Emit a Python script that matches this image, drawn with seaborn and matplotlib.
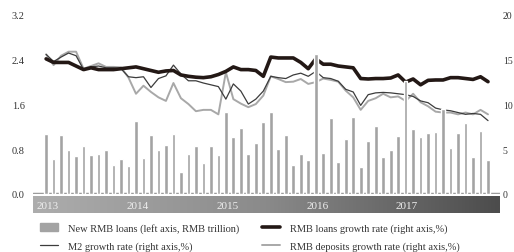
import numpy as np
import pandas as pd
import matplotlib.pyplot as plt
import seaborn as sns
from matplotlib.patches import Patch
from matplotlib.lines import Line2D

# monthly data, 2013-01 .. 2017-12
new_loans = [1.07, 0.62, 1.05, 0.79, 0.68, 0.86, 0.70, 0.72, 0.79, 0.51, 0.63, 0.50,
             1.31, 0.65, 1.05, 0.78, 0.88, 1.08, 0.40, 0.71, 0.86, 0.56, 0.85, 0.70,
             1.47, 1.02, 1.18, 0.72, 0.91, 1.28, 1.47, 0.81, 1.05, 0.52, 0.71, 0.61,
             2.50, 0.74, 1.36, 0.57, 0.99, 1.37, 0.48, 0.95, 1.21, 0.66, 0.79, 1.04,
             2.02, 1.16, 1.02, 1.09, 1.11, 1.52, 0.83, 1.09, 1.27, 0.67, 1.12, 0.60]
loans_growth = [15.1, 14.7, 14.7, 14.7, 14.3, 13.9, 14.1, 13.9, 13.9, 13.9, 14.0, 14.1,
                14.2, 14.0, 13.8, 13.6, 13.75, 13.8, 13.3, 13.15, 13.05, 13.0, 13.1, 13.35,
                13.7, 14.2, 13.9, 13.9, 13.8, 13.15, 15.3, 15.2, 15.2, 15.2, 14.7, 14.0,
                15.1, 14.5, 14.5, 14.3, 14.2, 14.1, 12.9, 12.85, 12.9, 12.9, 12.96, 13.3,
                12.5, 12.85, 12.2, 12.7, 12.74, 12.74, 13.0, 13.0, 12.9, 12.8, 13.1, 12.55]
m2_growth = [15.6, 14.8, 15.3, 15.75, 15.45, 13.9, 14.2, 14.3, 14.1, 14.1, 14.0, 13.1,
             13.0, 13.1, 11.9, 12.9, 13.2, 14.4, 13.4, 12.65, 12.65, 12.4, 12.2, 12.0,
             10.6, 12.3, 11.5, 10.05, 10.6, 11.5, 13.15, 13.0, 12.9, 13.3, 13.5, 13.15,
             13.7, 13.0, 12.9, 12.6, 11.7, 11.4, 9.9, 11.1, 11.3, 11.35, 11.3, 11.2,
             11.1, 10.9, 10.4, 10.2, 9.6, 9.4, 9.3, 9.1, 8.9, 9.0, 8.9, 8.2]
deposits_growth = [15.6, 14.4, 15.45, 15.9, 15.9, 14.0, 14.3, 14.6, 14.2, 14.2, 14.15, 13.0,
                   11.2, 12.1, 11.4, 10.8, 10.4, 12.4, 10.7, 10.05, 9.25, 9.4, 9.4, 8.9,
                   13.6, 10.6, 10.1, 9.7, 10.05, 11.0, 13.15, 12.85, 12.5, 12.55, 12.85, 12.3,
                   12.5, 12.9, 12.75, 12.55, 11.55, 10.8, 9.4, 10.4, 10.7, 11.2, 10.8, 10.9,
                   10.4, 11.2, 10.25, 9.8, 9.2, 9.1, 9.1, 8.9, 9.1, 8.9, 9.4, 8.9]
years = ['2013', '2014', '2015', '2016', '2017']
left_ticks = [0.0, 0.8, 1.6, 2.4, 3.2]
right_ticks = [0, 5, 10, 15, 20]

months = list(range(len(new_loans)))
df = pd.DataFrame({'m': months, 'loans': new_loans, 'lg': loans_growth,
                   'm2': m2_growth, 'dep': deposits_growth})

sns.set_style('white')
plt.rcParams['font.family'] = ['Liberation Serif', 'DejaVu Serif']
plt.rcParams['font.size'] = 7.5

fig = plt.figure(figsize=(5.14, 2.53), dpi=100)
ax = fig.add_axes([33/514, 1 - 195/253, 467/514, 179/253])
ax2 = ax.twinx()

bar_c = '#a3a3a3'
sns.barplot(data=df, x='m', y='loans', ax=ax, color=bar_c, width=0.5, saturation=1)
sns.lineplot(data=df, x='m', y='dep', ax=ax2, color='#a8a8a8', lw=1.4)
sns.lineplot(data=df, x='m', y='m2', ax=ax2, color='#3c3c3c', lw=0.9)
sns.lineplot(data=df, x='m', y='lg', ax=ax2, color='#231815', lw=2.6)

# bars drawn on top of the lines
ax.set_zorder(ax2.get_zorder() + 1)
ax.patch.set_visible(False)

xl = (-1.75, 60.6)
ax.set_xlim(xl)
ax2.set_xlim(xl)
ax.set_ylim(0, 3.2)
ax2.set_ylim(0, 20)
ax.set_yticks(left_ticks)
ax.set_yticklabels([f'{v:.1f}' for v in left_ticks], color='#333333')
ax2.set_yticks(right_ticks)
ax2.set_yticklabels([str(v) for v in right_ticks], color='#333333', fontsize=7)
ax.tick_params(axis='y', length=0, pad=6)
ax2.tick_params(axis='y', length=0, pad=2)
ax.set_xticks([])
for a in (ax, ax2):
    a.set_xlabel('')
    a.set_ylabel('')
    for s in a.spines.values():
        s.set_visible(False)
ax.axhline(0, color='#9c9c9c', lw=2.5, zorder=0.5)

# gradient band with year labels
band = fig.add_axes([33/514, 1 - 214/253, 467/514, 17/253])
grad = np.linspace(0, 1, 256).reshape(1, -1)
band.imshow(grad, aspect='auto', cmap=plt.matplotlib.colors.LinearSegmentedColormap.from_list(
    'g', ['#adadad', '#8a8a8a', '#4c4c4c']), extent=(xl[0], xl[1], 0, 1))
band.set_xlim(xl)
band.set_ylim(0, 1)
band.axis('off')
for k, y in enumerate(years):
    band.text(k * 12 + 0.2, 0.45, y, color='#efefef', fontsize=8, ha='center', va='center')

handles = [Patch(color=bar_c),
           Line2D([], [], color='#3c3c3c', lw=0.9),
           Line2D([], [], color='#231815', lw=2.6),
           Line2D([], [], color='#a8a8a8', lw=1.4)]
labels = ['New RMB loans (left axis, RMB trillion)',
          'M2 growth rate (right axis,%)',
          'RMB loans growth rate (right axis,%)',
          'RMB deposits growth rate (right axis,%)']
fig.legend(handles, labels, ncol=2, loc='upper left', bbox_to_anchor=(40/514, 1 - 224/253),
           frameon=False, borderpad=0, borderaxespad=0, handlelength=1.7,
           handletextpad=1.0, columnspacing=2.2, labelspacing=0.8, fontsize=7.5,
           labelcolor='#333333')

fig.savefig('out.png', dpi=100)
